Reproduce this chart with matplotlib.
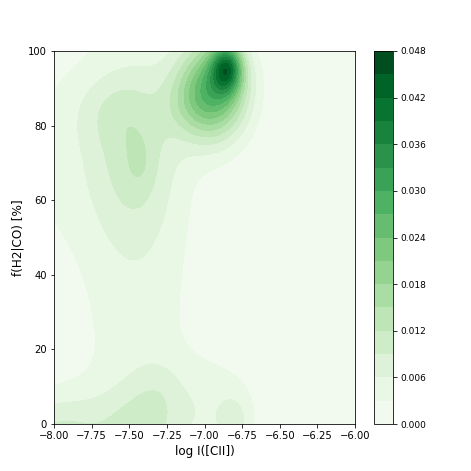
import numpy as np
import matplotlib
matplotlib.use('Agg')
import matplotlib.pyplot as plt

# density components (centre, spread, peak height)
comp_x = [-6.85, -6.93, -7.00, -7.45, -7.47, -7.62, -7.43, -8.00, -7.10,
          -8.00, -7.39, -7.30, -6.90, -6.80]
comp_y = [95.5, 90.0, 88.0, 40.0, 72.0, 84.0, 70.0, 72.0, 86.0,
          -3.0, 0.0, 10.0, 4.0, 0.0]
comp_sx = [0.07, 0.15, 0.20, 0.30, 0.20, 0.18, 0.06, 0.25, 0.12,
           0.30, 0.19, 0.12, 0.20, 0.07]
comp_sy = [4.5, 9.0, 10.0, 60.0, 16.0, 7.0, 5.0, 20.0, 6.0,
           8.0, 8.0, 6.0, 10.0, 5.0]
comp_amp = [0.025, 0.022, 0.005, 0.0045, 0.0065, 0.003, 0.002, 0.003, 0.003,
            0.009, 0.0055, 0.002, 0.0042, 0.0042]

levels = np.linspace(0, 0.048, 17)
cbar_ticks = [0.000, 0.006, 0.012, 0.018, 0.024, 0.030, 0.036, 0.042, 0.048]

xx, yy = np.meshgrid(np.linspace(-8, -6, 250), np.linspace(0, 100, 250))
dens = np.zeros_like(xx)
for cx, cy, sx, sy, a in zip(comp_x, comp_y, comp_sx, comp_sy, comp_amp):
    dens += a * np.exp(-0.5 * ((xx - cx) / sx) ** 2 - 0.5 * ((yy - cy) / sy) ** 2)
print(dens.max())

fig = plt.figure(figsize=(471 / 72, 471 / 72), dpi=72)
ax = fig.add_axes([54 / 471, 47 / 471, 301 / 471, 373 / 471])
cax = fig.add_axes([374 / 471, 47 / 471, 19 / 471, 373 / 471])

cs = ax.contourf(xx, yy, dens, levels=levels, cmap='Greens')
ax.set_xlim(-8, -6)
ax.set_ylim(0, 100)
ax.set_xticks(np.arange(-8, -5.99, 0.25))
ax.set_xlabel('log I([CII])', fontsize=12)
ax.set_ylabel('f(H2|CO) [%]', fontsize=12)
ax.tick_params(labelsize=10)

cb = fig.colorbar(cs, cax=cax, ticks=cbar_ticks)
cb.ax.set_yticklabels(['%.3f' % t for t in cbar_ticks])
cb.ax.tick_params(labelsize=9)

fig.savefig('out.png', dpi=72)
